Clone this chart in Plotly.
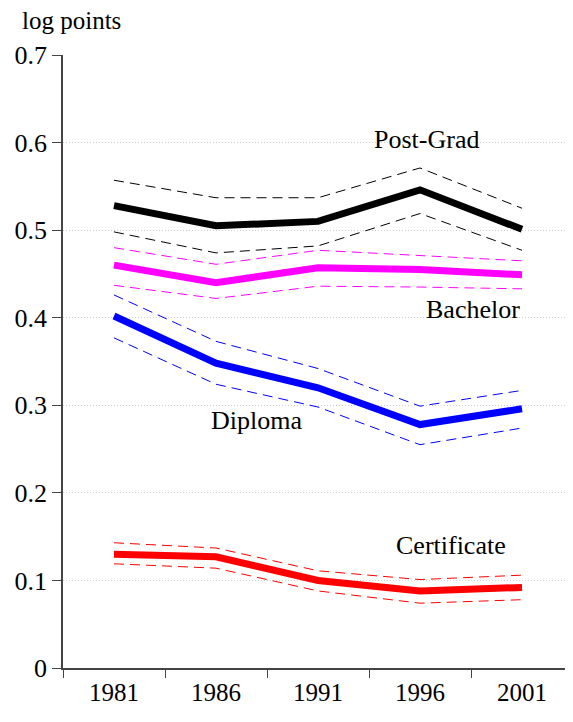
import plotly.graph_objects as go

years = ["1981", "1986", "1991", "1996", "2001"]

postgrad = [0.528, 0.505, 0.510, 0.546, 0.501]
postgrad_hi = [0.557, 0.537, 0.537, 0.571, 0.525]
postgrad_lo = [0.498, 0.474, 0.482, 0.519, 0.477]

bachelor = [0.460, 0.440, 0.457, 0.455, 0.449]
bachelor_hi = [0.480, 0.461, 0.477, 0.471, 0.465]
bachelor_lo = [0.437, 0.422, 0.436, 0.435, 0.433]

diploma = [0.402, 0.348, 0.320, 0.278, 0.296]
diploma_hi = [0.426, 0.373, 0.342, 0.299, 0.317]
diploma_lo = [0.377, 0.324, 0.298, 0.255, 0.274]

certificate = [0.130, 0.127, 0.100, 0.088, 0.092]
certificate_hi = [0.143, 0.137, 0.111, 0.101, 0.106]
certificate_lo = [0.119, 0.114, 0.088, 0.074, 0.078]

y_ticks = [0, 0.1, 0.2, 0.3, 0.4, 0.5, 0.6, 0.7]
y_ticktext = ["0", "0.1", "0.2", "0.3", "0.4", "0.5", "0.6", "0.7"]

series = [
    ("Post-Grad", postgrad, postgrad_hi, postgrad_lo, "#000000", 3.06, 0.604),
    ("Bachelor", bachelor, bachelor_hi, bachelor_lo, "#FF00FF", 3.52, 0.409),
    ("Diploma", diploma, diploma_hi, diploma_lo, "#0000FF", 1.40, 0.283),
    ("Certificate", certificate, certificate_hi, certificate_lo, "#FF0000", 3.30, 0.140),
]

xs = list(range(len(years)))
FONT = "Liberation Serif, Times New Roman, DejaVu Serif, serif"

fig = go.Figure()
annotations = []
for name, main, hi, lo, color, lx, ly in series:
    for band in (hi, lo):
        fig.add_trace(go.Scatter(x=xs, y=band, mode="lines",
                                 line=dict(color=color, width=1, dash="10px,6px"),
                                 showlegend=False, hoverinfo="skip"))
    fig.add_trace(go.Scatter(x=xs, y=main, mode="lines",
                             line=dict(color=color, width=7),
                             showlegend=False, name=name))
    annotations.append(dict(x=lx, y=ly, xref="x", yref="y", text=name,
                            showarrow=False, font=dict(family=FONT, size=26, color="black")))

annotations.append(dict(x=-0.084, y=1.057, xref="paper", yref="paper", text="log points",
                        showarrow=False, xanchor="left", yanchor="middle",
                        font=dict(family=FONT, size=25, color="black")))

fig.update_layout(
    width=565, height=714,
    margin=dict(l=55, r=0, t=47, b=54),
    plot_bgcolor="white", paper_bgcolor="white",
    font=dict(family=FONT, size=26, color="black"),
    annotations=annotations,
)

fig.update_xaxes(
    range=[-0.5, 4.5], tickvals=xs, ticktext=years, ticks="",
    showgrid=False, zeroline=False, showline=True, linecolor="#444", linewidth=1.5,
    tickfont=dict(family=FONT, size=25),
    ticklabelstandoff=1,
    minor=dict(tickvals=[-0.5, 0.5, 1.5, 2.5, 3.5, 4.5], ticks="outside", ticklen=8,
               tickcolor="#444", tickwidth=1, showgrid=False),
)
fig.update_yaxes(
    range=[0, 0.7], tickvals=y_ticks, ticktext=y_ticktext,
    ticks="outside", ticklen=9, tickcolor="#444", tickwidth=1,
    showgrid=True, gridcolor="#cfcfcf", griddash="1px,2px", gridwidth=1,
    zeroline=False, showline=True, linecolor="#444", linewidth=1.5,
    tickfont=dict(family=FONT, size=26),
    ticklabelstandoff=0,
)

fig.write_html("out.html")
